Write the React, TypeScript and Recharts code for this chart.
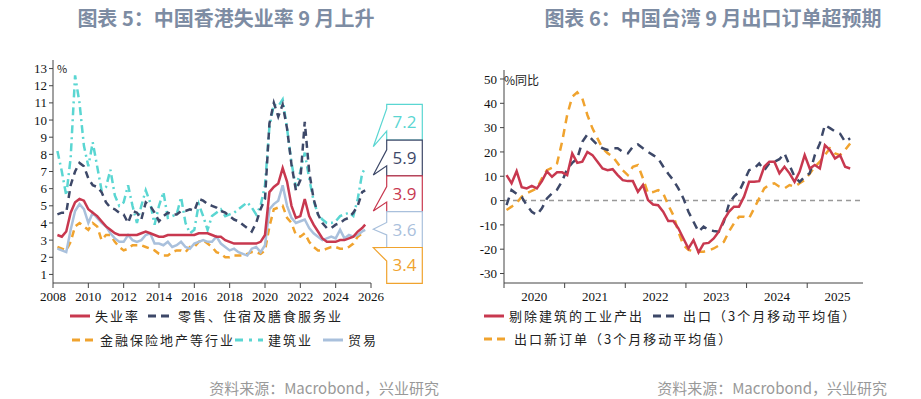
import { LineChart, Line, XAxis, YAxis, ReferenceLine } from "recharts";

// ---- colours ----
const RED = "#c8384f";
const NAVY = "#3d4868";
const ORANGE = "#f0a32e";
const CYAN = "#5ad6d2";
const LIGHTBLUE = "#a9c0dc";
const TITLE = "#7d8ca3";
const SERIF = '"Liberation Serif", "Times New Roman", serif';
const CJK = '"Noto Sans CJK SC", "Noto Sans", sans-serif';

// ---- chart 5: Hong Kong unemployment (quarterly, last point = Sep 2025) ----
const hkPeriods: number[] = [];
for (let i = 0; i < 70; i++) hkPeriods.push(2008.25 + i * 0.25);
hkPeriods.push(2025.67);

const hkUnemployment = [
  3.3, 3.2, 3.5,
  4.6, 5.2, 5.4, 5.3,
  4.8, 4.6, 4.4, 4.1,
  3.8, 3.6, 3.4, 3.3,
  3.3, 3.3, 3.3, 3.3,
  3.4, 3.5, 3.4, 3.3,
  3.2, 3.2, 3.3, 3.3,
  3.3, 3.3, 3.3, 3.3,
  3.3, 3.4, 3.4, 3.4,
  3.3, 3.2, 3.2, 3.0,
  2.9, 2.8, 2.8, 2.8,
  2.8, 2.8, 2.8, 2.9,
  3.3, 5.8, 6.1, 6.3,
  7.2, 6.4, 5.0, 4.3,
  4.4, 5.4, 4.4, 3.9,
  3.5, 3.1, 2.9, 2.9,
  2.9, 3.0, 3.0, 3.1,
  3.2, 3.5, 3.7, 3.9,
];
const hkRetail = [
  4.5, 4.6, 4.6,
  6.2, 7.0, 7.5, 7.3,
  6.6, 6.2, 6.1, 5.8,
  5.2, 4.9, 4.8, 4.6,
  4.5, 4.0, 4.7, 4.6,
  4.2, 5.2, 5.0, 4.6,
  4.1, 4.4, 4.6, 4.5,
  4.5, 4.7, 4.7, 4.8,
  4.7, 5.4, 5.3, 5.1,
  5.0, 4.9, 4.7, 4.6,
  4.4, 4.2, 4.1, 3.9,
  3.7, 3.5, 4.0, 4.8,
  5.4, 9.8, 11.0, 10.2,
  10.9, 9.5, 7.4, 5.9,
  6.5, 9.9, 7.0, 5.4,
  4.5, 4.0, 3.7, 3.7,
  3.9, 4.0, 4.2, 4.3,
  4.6, 5.0, 5.8, 5.9,
];
const hkFinance = [
  2.6, 2.5, 2.4,
  2.9, 3.8, 4.0, 3.8,
  3.6, 4.0, 3.8, 3.0,
  3.3, 3.3, 2.9, 2.6,
  2.4, 2.5, 2.7, 2.7,
  2.7, 2.6, 2.5, 2.4,
  2.2, 2.1, 2.1, 2.3,
  2.4, 2.4, 2.3, 2.6,
  2.6, 2.9, 3.0, 2.8,
  2.6, 2.3, 2.2, 2.0,
  2.0, 2.1, 2.1, 2.1,
  2.2, 2.3, 2.3, 2.2,
  2.4, 3.8, 4.8, 4.9,
  5.0, 4.3, 4.0, 3.3,
  3.2, 3.4, 2.9, 2.6,
  2.4, 2.4, 2.5, 2.6,
  2.6, 2.5, 2.5, 2.6,
  2.8, 3.2, 3.4, 3.4,
];
const hkConstruction = [
  8.2, 7.0, 5.6,
  7.8, 12.6, 11.0, 8.5,
  7.3, 8.7, 7.3, 5.9,
  6.1, 7.1, 5.6, 5.0,
  5.2, 6.2, 5.0, 4.0,
  5.0, 5.9, 5.2, 3.9,
  5.0, 5.8, 4.3, 4.4,
  4.5, 5.5, 4.0, 3.4,
  3.6, 5.1, 4.4, 3.6,
  4.4, 4.6, 4.8, 4.4,
  4.5, 4.6, 4.8, 5.0,
  5.2, 4.9, 4.5, 5.0,
  6.2, 9.6, 10.9, 10.8,
  11.2, 9.5, 7.5, 6.1,
  7.0, 8.1, 6.6, 5.3,
  4.5, 4.2, 4.0, 4.0,
  4.1, 4.4, 4.5, 4.6,
  4.4, 5.4, 6.9, 7.2,
];
const hkTrade = [
  2.5, 2.4, 2.3,
  3.6, 4.7, 5.1, 4.8,
  4.0, 4.6, 4.3, 4.0,
  3.8, 3.4, 3.1, 2.9,
  2.9, 3.3, 3.0, 2.9,
  3.0, 3.3, 3.4, 2.8,
  2.8, 2.7, 2.9, 2.6,
  2.7, 2.9, 2.6, 2.5,
  2.8, 2.9, 3.0, 2.9,
  2.9, 3.2, 2.8, 2.6,
  2.4, 2.5, 2.3, 2.2,
  2.1, 2.5, 2.6, 2.3,
  2.7, 4.8, 5.1, 5.3,
  6.2, 5.0, 4.3, 4.0,
  4.1, 4.2, 3.7, 3.4,
  3.2, 3.0, 3.1, 3.2,
  3.1, 3.6, 3.1, 3.3,
  3.2, 3.3, 3.5, 3.6,
];
const hkYearTicks = [2008, 2010, 2012, 2014, 2016, 2018, 2020, 2022, 2024, 2026];
const hkValueTicks = [1, 2, 3, 4, 5, 6, 7, 8, 9, 10, 11, 12, 13];

const hkData = hkPeriods.map((t, i) => ({
  t,
  unemployment: hkUnemployment[i],
  retail: hkRetail[i],
  finance: hkFinance[i],
  construction: hkConstruction[i],
  trade: hkTrade[i],
}));

// ---- chart 6: Taiwan, monthly Jan 2020 .. Sep 2025 ----
const twMonths: number[] = [];
for (let m = 0; m < 69; m++) twMonths.push(2020 + (m + 0.5) / 12);

const twIndustry = [
  10.5, 7.1, 12.1, 5.5, 5.0, 6.0, 5.0, 8.0, 12.0, 9.8, 11.6, 11.6,
  10.5, 19.4, 15.5, 16.0, 20.0, 18.7, 16.0, 13.2, 12.5, 12.9, 10.5, 8.4,
  8.0, 8.0, 3.6, 6.4, 0.2, -1.6, -1.9, -4.6, -8.4, -8.4, -11.4, -15.6,
  -19.7, -16.3, -21.3, -17.7, -17.4, -15.6, -12.8, -8.0, -4.6, -2.5, -2.5, 1.6,
  7.7, 7.7, 8.0, 13.9, 16.0, 16.0, 11.2, 13.9, 11.2, 7.7, 11.9, 18.7,
  13.2, 14.6, 13.2, 22.8, 20.8, 17.3, 18.7, 13.9, 13.2,
];
const twExports = [
  -1.9, 4.3, 2.8, 1.5, -2.0, -4.6, -5.9, -3.2, 0.9, 3.0, 4.5, 8.0,
  13.0, 15.5, 17.3, 24.2, 27.2, 25.0, 22.9, 21.5, 20.8, 21.5, 21.5, 20.0,
  19.4, 22.2, 23.1, 21.5, 20.0, 18.7, 17.3, 14.0, 11.0, 8.4, 5.0, 0.9,
  -4.6, -8.7, -12.8, -10.7, -12.1, -12.5, -12.8, -8.7, -1.5, 1.6, 3.6, 8.0,
  12.5, 13.2, 15.3, 12.5, 15.3, 16.0, 17.0, 19.4, 14.6, 9.8, 7.7, 9.8,
  11.2, 18.7, 23.5, 31.1, 29.8, 28.4, 27.5, 24.2, 25.6,
];
const twOrders = [
  -3.9, -2.5, -1.0, 1.6, 3.0, 4.0, 5.0, 9.1, 12.5, 13.5, 15.3, 24.2,
  35.2, 42.7, 44.5, 42.0, 35.2, 29.7, 25.6, 21.5, 19.5, 18.1, 15.3, 12.5,
  10.5, 13.9, 14.6, 9.1, 3.0, 3.5, 4.3, 3.0, -1.9, -6.0, -12.8, -18.3,
  -20.3, -20.8, -21.0, -21.0, -20.5, -19.7, -18.5, -17.0, -12.8, -9.4, -6.7, -6.7,
  -7.3, -3.2, 0.9, 5.0, 6.5, 7.1, 5.7, 5.0, 6.4, 5.7, 7.1, 8.4,
  11.0, 13.9, 16.0, 18.7, 21.5, 19.4, 18.7, 20.8, 23.5,
];
const twYearTicks = [2020, 2021, 2022, 2023, 2024, 2025];
const twValueTicks = [-30, -20, -10, 0, 10, 20, 30, 40, 50];

const twData = twMonths.map((t, i) => ({
  t,
  industry: twIndustry[i],
  exports: twExports[i],
  orders: twOrders[i],
}));

// ---- layout ----
const TW_X_MAX = 2025.92;
const TW_PLOT_W = 359;
const HALF_YEAR_PX = TW_PLOT_W / (TW_X_MAX - 2020) / 2;

const tickStyle = { fontSize: 13, fontFamily: SERIF, fill: "#111" };
const axisStroke = { stroke: "#444" };

function YearTick(props: any) {
  const { x, y, payload } = props;
  return (
    <text x={x + HALF_YEAR_PX} y={y} dy="0.71em" textAnchor="middle" {...tickStyle}>
      {payload.value}
    </text>
  );
}

// callout boxes beside chart 5 (value text comes from the last data point)
const lastOf = (a: number[]) => a[a.length - 1];
const callouts = [
  { value: lastOf(hkConstruction), color: CYAN, top: 104.3, tipY: 146.7, a: 0.12, b: 0.75 },
  { value: lastOf(hkRetail), color: NAVY, top: 140.1, tipY: 175, a: 0.27, b: 0.72 },
  { value: lastOf(hkUnemployment), color: RED, top: 175.9, tipY: 211, a: 0.3, b: 0.73 },
  { value: lastOf(hkTrade), color: LIGHTBLUE, top: 211.7, tipY: 229.3, a: 0.3, b: 0.65 },
  { value: lastOf(hkFinance), color: ORANGE, top: 247.5, tipY: 247.7, a: 0.0, b: 0.38 },
];
const BOX_X0 = 386.7;
const BOX_X1 = 422.3;
const BOX_H = 35.8;
const TIP_X = 373.3;

function Swatch({ color, dash, width = 22 }: { color: string; dash?: string; width?: number }) {
  return (
    <svg width={width} height={6} style={{ display: "block" }}>
      <line x1={0} y1={3} x2={width} y2={3} stroke={color} strokeWidth={3} strokeDasharray={dash} />
    </svg>
  );
}

function LegendItem({ left, top, color, dash, label, width }: any) {
  return (
    <div style={{ position: "absolute", left, top, display: "flex", alignItems: "center", gap: 5 }}>
      <Swatch color={color} dash={dash} width={width} />
      <span style={{ fontSize: 13, letterSpacing: 2, color: "#222", fontFamily: CJK, whiteSpace: "pre" }}>
        {label}
      </span>
    </div>
  );
}

const titleStyle: any = {
  position: "absolute",
  top: 3,
  width: 460,
  textAlign: "center",
  fontSize: 20,
  fontWeight: 700,
  color: TITLE,
  whiteSpace: "pre",
};

export default function App() {
  return (
    <div style={{ position: "relative", width: 921, height: 399, background: "#fff", fontFamily: CJK }}>
      <style>{"body{margin:0}"}</style>

      {/* titles */}
      <div style={{ ...titleStyle, left: -4 }}>图表 5：中国香港失业率 9 月上升</div>
      <div style={{ ...titleStyle, left: 483 }}>图表 6：中国台湾 9 月出口订单超预期</div>

      {/* chart 5 */}
      <div style={{ position: "absolute", left: 0, top: 0 }}>
        <LineChart width={460} height={310} data={hkData} margin={{ top: 60, right: 89, bottom: 0, left: 0 }}>
          <XAxis
            dataKey="t"
            type="number"
            domain={[2008, 2026]}
            ticks={hkYearTicks}
            interval={0}
            height={27}
            tickSize={5}
            tickMargin={4}
            tick={tickStyle}
            axisLine={axisStroke}
            tickLine={axisStroke}
          />
          <YAxis
            type="number"
            domain={[0.5, 13.5]}
            ticks={hkValueTicks}
            interval={0}
            width={53}
            tickSize={4}
            tickMargin={2}
            tick={tickStyle}
            axisLine={axisStroke}
            tickLine={axisStroke}
          />
          <Line dataKey="construction" stroke={CYAN} strokeWidth={2.5} strokeDasharray="8 4 2 4" dot={false} isAnimationActive={false} />
          <Line dataKey="retail" stroke={NAVY} strokeWidth={2.5} strokeDasharray="7 5" dot={false} isAnimationActive={false} />
          <Line dataKey="finance" stroke={ORANGE} strokeWidth={2.5} strokeDasharray="7 5" dot={false} isAnimationActive={false} />
          <Line dataKey="trade" stroke={LIGHTBLUE} strokeWidth={2.5} dot={false} isAnimationActive={false} />
          <Line dataKey="unemployment" stroke={RED} strokeWidth={2.5} dot={false} isAnimationActive={false} />
        </LineChart>
      </div>
      <div style={{ position: "absolute", left: 57, top: 60, fontSize: 11, color: "#222" }}>%</div>

      {/* callouts */}
      <svg width={460} height={310} style={{ position: "absolute", left: 0, top: 0, pointerEvents: "none" }}>
        {callouts.map((c, i) => {
          const bottom = c.top + BOX_H;
          const ya = c.top + c.a * BOX_H;
          const yb = c.top + c.b * BOX_H;
          const d = `M${BOX_X0},${c.top} L${BOX_X1},${c.top} L${BOX_X1},${bottom} L${BOX_X0},${bottom} L${BOX_X0},${yb} L${TIP_X},${c.tipY} L${BOX_X0},${ya} Z`;
          return (
            <g key={i}>
              <path d={d} fill="#fff" stroke={c.color} strokeWidth={1.2} />
              <text
                x={(BOX_X0 + BOX_X1) / 2}
                y={c.top + BOX_H / 2}
                dy="0.35em"
                textAnchor="middle"
                fontSize={17}
                fontFamily='"Open Sans", "Noto Sans", sans-serif'
                fill={c.color}
              >
                {c.value.toFixed(1)}
              </text>
            </g>
          );
        })}
      </svg>

      {/* chart 5 legend */}
      <LegendItem left={70} top={306} color={RED} label="失业率" width={20} />
      <LegendItem left={148} top={306} color={NAVY} dash="8 5" label="零售、住宿及膳食服务业" width={25} />
      <LegendItem left={72} top={330} color={ORANGE} dash="8 5" label="金融保险地产等行业" width={23} />
      <LegendItem left={235} top={330} color={CYAN} dash="8 6 3 6" label="建筑业" width={28} />
      <LegendItem left={323} top={330} color={LIGHTBLUE} label="贸易" width={20} />

      {/* chart 6 */}
      <div style={{ position: "absolute", left: 460, top: 0 }}>
        <LineChart width={461} height={310} data={twData} margin={{ top: 70, right: 58, bottom: 0, left: 0 }}>
          <XAxis
            dataKey="t"
            type="number"
            domain={[2020, TW_X_MAX]}
            ticks={twYearTicks}
            interval={0}
            height={27}
            tickSize={5}
            tickMargin={4}
            tick={<YearTick />}
            axisLine={axisStroke}
            tickLine={axisStroke}
          />
          <YAxis
            type="number"
            domain={[-33.9, 53.7]}
            ticks={twValueTicks}
            interval={0}
            width={44}
            tickSize={4}
            tickMargin={3}
            tick={tickStyle}
            axisLine={axisStroke}
            tickLine={axisStroke}
          />
          <ReferenceLine y={0} stroke="#999" strokeWidth={1.5} strokeDasharray="5 4" />
          <Line dataKey="orders" stroke={ORANGE} strokeWidth={2.5} strokeDasharray="8 6" dot={false} isAnimationActive={false} />
          <Line dataKey="exports" stroke={NAVY} strokeWidth={2.5} strokeDasharray="8 6" dot={false} isAnimationActive={false} />
          <Line dataKey="industry" stroke={RED} strokeWidth={2.5} dot={false} isAnimationActive={false} />
        </LineChart>
      </div>
      <div style={{ position: "absolute", left: 504, top: 71, fontSize: 12, color: "#222" }}>%同比</div>

      {/* chart 6 legend */}
      <LegendItem left={484} top={306} color={RED} label="剔除建筑的工业产出" width={20} />
      <LegendItem left={653} top={306} color={NAVY} dash="8 5" label="出口（3个月移动平均值）" width={25} />
      <LegendItem left={484} top={329} color={ORANGE} dash="8 5" label="出口新订单（3个月移动平均值）" width={25} />

      {/* sources */}
      <div style={{ position: "absolute", right: 921 - 439, top: 377, fontSize: 15, color: "#999", whiteSpace: "nowrap" }}>
        资料来源：Macrobond，兴业研究
      </div>
      <div style={{ position: "absolute", right: 921 - 887, top: 377, fontSize: 15, color: "#999", whiteSpace: "nowrap" }}>
        资料来源：Macrobond，兴业研究
      </div>
    </div>
  );
}
